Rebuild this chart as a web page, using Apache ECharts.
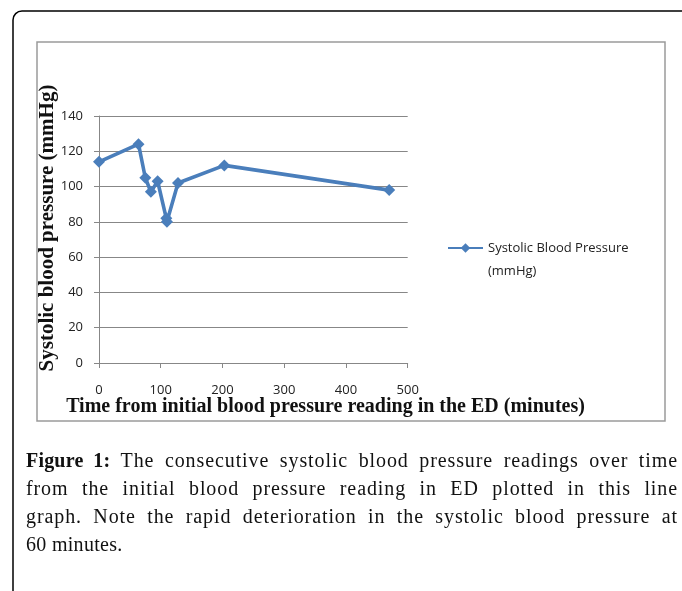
<!DOCTYPE html>
<html>
<head>
<meta charset="utf-8">
<script src="https://cdn.jsdelivr.net/npm/echarts@6/dist/echarts.min.js"></script>
<style>
  html, body { margin: 0; padding: 0; background: #fff; }
  #chart { position: absolute; left: 0; top: 0; width: 682px; height: 591px; }
  #caption { position: absolute; left: 26px; top: 446px; width: 652px;
    font-family: "Liberation Serif", "Times New Roman", serif; font-size: 20px;
    letter-spacing: 0.9px; line-height: 28px; color: #111; }
  #caption div { text-align: justify; text-align-last: justify; white-space: nowrap; }
  #caption div.last { text-align-last: left; letter-spacing: 0.3px; }
</style>
</head>
<body>
<div id="chart"></div>
<div id="caption">
  <div><b style="letter-spacing:0.2px">Figure 1:</b> The consecutive systolic blood pressure readings over time</div>
  <div>from the initial blood pressure reading in ED plotted in this line</div>
  <div>graph. Note the rapid deterioration in the systolic blood pressure at</div>
  <div class="last">60 minutes.</div>
</div>
<script>
const seriesName = 'Systolic Blood Pressure (mmHg)';
const timeMinutes = [0, 64, 75, 84, 95, 109, 110, 128, 203, 470];
const systolicBP = [114, 124, 105, 97, 103, 82, 80, 102, 112, 98];
const xTicks = [0, 100, 200, 300, 400, 500];
const yTicks = [0, 20, 40, 60, 80, 100, 120, 140];
const xTitle = 'Time from initial blood pressure reading in the ED (minutes)';
const yTitle = 'Systolic blood pressure (mmHg)';

const chart = echarts.init(document.getElementById('chart'), null, { renderer: 'canvas' });
const gridColor = '#878787';
const labelFont = { fontFamily: 'Open Sans', fontSize: 13, color: '#222' };

chart.setOption({
  animation: false,
  backgroundColor: '#fff',
  grid: { left: 99, top: 116, width: 308.7, height: 247, containLabel: false },
  xAxis: {
    type: 'value', min: xTicks[0], max: xTicks[xTicks.length - 1], interval: 100,
    axisLine: { show: true, lineStyle: { color: gridColor, width: 1 } },
    axisTick: { show: true, inside: false, length: 5, lineStyle: { color: gridColor } },
    axisLabel: Object.assign({ margin: 21 }, labelFont),
    splitLine: { show: false }
  },
  yAxis: {
    type: 'value', min: yTicks[0], max: yTicks[yTicks.length - 1], interval: 20,
    axisLine: { show: true, lineStyle: { color: gridColor, width: 1 } },
    axisTick: { show: true, inside: false, length: 5, lineStyle: { color: gridColor } },
    axisLabel: Object.assign({ margin: 16 }, labelFont),
    splitLine: { show: true, lineStyle: { color: gridColor, width: 1 } }
  },
  legend: {
    show: true, orient: 'vertical', left: 447, top: 213.5, padding: 0,
    itemWidth: 35, itemHeight: 12,
    formatter: function () { return '\nSystolic Blood Pressure\n(mmHg)'; },
    textStyle: { fontFamily: 'Open Sans', fontSize: 13, color: '#222', lineHeight: 23 }
  },
  series: [{
    name: seriesName,
    type: 'line',
    data: timeMinutes.map((t, i) => [t, systolicBP[i]]),
    symbol: 'diamond', symbolSize: 12,
    lineStyle: { color: '#4A7EBB', width: 3.6 },
    itemStyle: { color: '#4A7EBB' }
  }],
  graphic: [
    { type: 'rect', shape: { x: 13, y: 11, width: 720, height: 640, r: 9 }, style: { fill: 'none', stroke: '#000', lineWidth: 1.5 }, z: 0 },
    { type: 'rect', shape: { x: 37, y: 42, width: 628, height: 379 }, style: { fill: 'none', stroke: '#9a9a9a', lineWidth: 1.5 }, z: 0 },
    { type: 'text', x: 325.5, y: 407, style: { text: xTitle, align: 'center', verticalAlign: 'middle', font: 'bold 20px "Liberation Serif"', fill: '#111' } },
    { type: 'text', x: 48, y: 228, rotation: Math.PI / 2, style: { text: yTitle, align: 'center', verticalAlign: 'middle', font: 'bold 21px "Liberation Serif"', fill: '#111' } }
  ]
});
</script>
</body>
</html>
